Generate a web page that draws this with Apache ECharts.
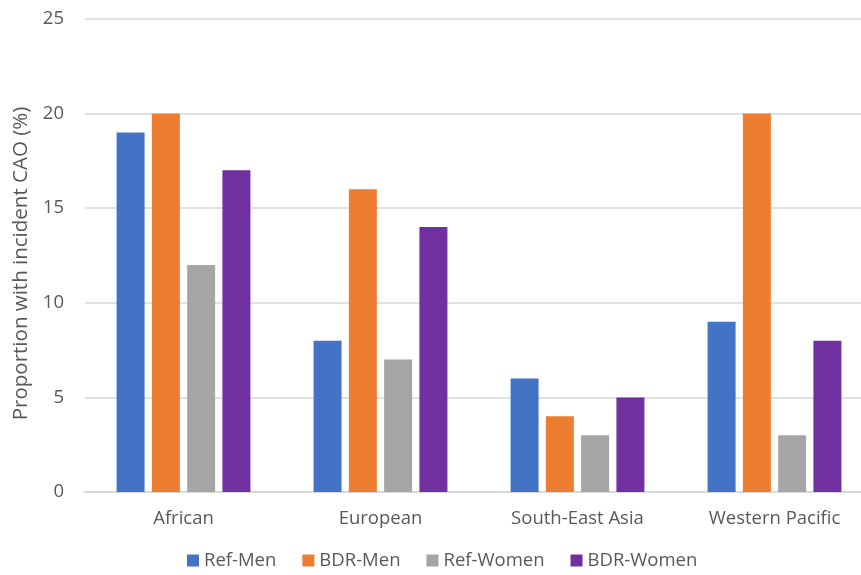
<!DOCTYPE html>
<html>
<head>
<meta charset="utf-8">
<script src="https://cdn.jsdelivr.net/npm/echarts@6/dist/echarts.min.js"></script>
<style>
  html, body { margin: 0; padding: 0; background: #fff; }
  #main { width: 861px; height: 575px; }
</style>
</head>
<body>
<div id="main"></div>
<script>
// 区域
var regions = ["African", "European", "South-East Asia", "Western Pacific"];
// 各组比例 (%)
var refMen = [19, 8, 6, 9];
var bdrMen = [20, 16, 4, 20];
var refWomen = [12, 7, 3, 3];
var bdrWomen = [17, 14, 5, 8];

var chart = echarts.init(document.getElementById("main"));
var font = "'Open Sans', sans-serif";

function bar(name, data, color) {
  return {
    name: name,
    type: "bar",
    data: data,
    barWidth: 28,
    barGap: "26%",
    itemStyle: { color: color }
  };
}

chart.setOption({
  animation: false,
  textStyle: { fontFamily: font },
  // 右侧超出画布一点，和原图一样被裁掉
  grid: { left: 85, width: 788, top: 19, bottom: 83, outerBoundsMode: "none" },
  legend: {
    bottom: 0,
    left: 182,
    icon: "rect",
    itemWidth: 12,
    itemHeight: 12,
    itemGap: 26,
    textStyle: { color: "#595959", fontSize: 18.5, fontFamily: font }
  },
  xAxis: {
    type: "category",
    data: regions,
    axisTick: { show: false },
    axisLine: { lineStyle: { color: "#d9d9d9", width: 2 } },
    axisLabel: { color: "#595959", fontSize: 18.5, margin: 17 }
  },
  yAxis: {
    type: "value",
    min: 0,
    max: 25,
    interval: 5,
    name: "Proportion with incident CAO (%)",
    nameLocation: "middle",
    nameGap: 52,
    // 标题略往下移
    nameTextStyle: { color: "#595959", fontSize: 20.5, padding: [0, 16, 0, 0] },
    axisLabel: { color: "#595959", fontSize: 18.5, margin: 21 },
    splitLine: { lineStyle: { color: "#d9d9d9", width: 1.5 } }
  },
  series: [
    bar("Ref-Men", refMen, "#4472C4"),
    bar("BDR-Men", bdrMen, "#ED7D31"),
    bar("Ref-Women", refWomen, "#A5A5A5"),
    bar("BDR-Women", bdrWomen, "#7030A0")
  ]
});
</script>
</body>
</html>
